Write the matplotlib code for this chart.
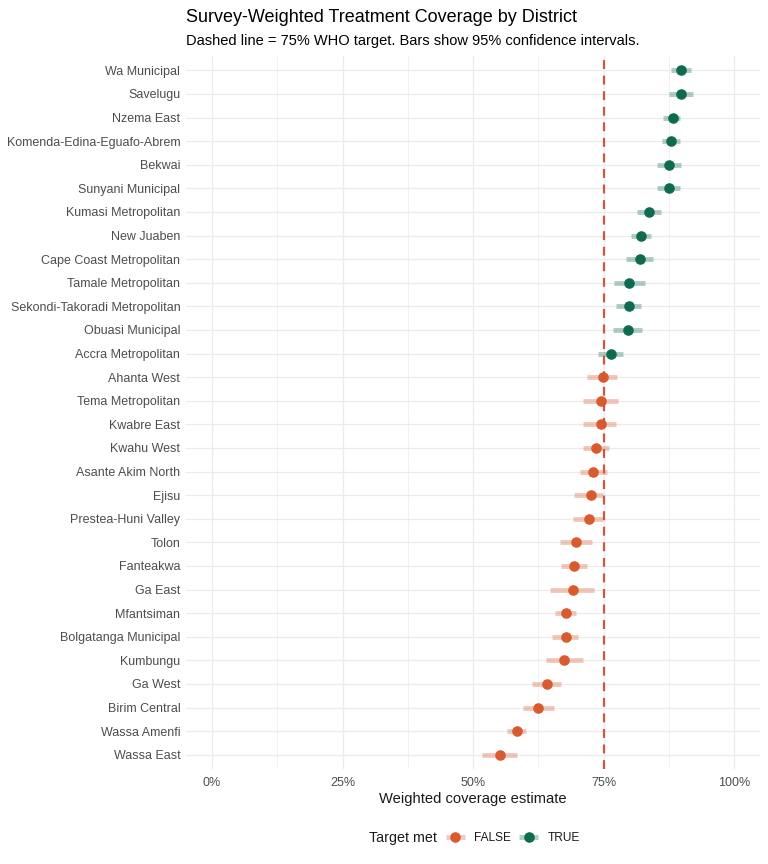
import matplotlib
matplotlib.use("Agg")
import matplotlib.pyplot as plt
from matplotlib.lines import Line2D
from matplotlib.ticker import FuncFormatter, MultipleLocator
from matplotlib.legend_handler import HandlerTuple

plt.rcParams['font.family'] = ['Liberation Sans', 'DejaVu Sans']

districts = ["Wa Municipal", "Savelugu", "Nzema East", "Komenda-Edina-Eguafo-Abrem", "Bekwai",
             "Sunyani Municipal", "Kumasi Metropolitan", "New Juaben", "Cape Coast Metropolitan",
             "Tamale Metropolitan", "Sekondi-Takoradi Metropolitan", "Obuasi Municipal",
             "Accra Metropolitan", "Ahanta West", "Tema Metropolitan", "Kwabre East", "Kwahu West",
             "Asante Akim North", "Ejisu", "Prestea-Huni Valley", "Tolon", "Fanteakwa", "Ga East",
             "Mfantsiman", "Bolgatanga Municipal", "Kumbungu", "Ga West", "Birim Central",
             "Wassa Amenfi", "Wassa East"]
estimate = [0.898, 0.898, 0.882, 0.879, 0.875, 0.875, 0.837, 0.822, 0.820, 0.799, 0.798, 0.796,
            0.765, 0.748, 0.744, 0.744, 0.736, 0.730, 0.725, 0.721, 0.698, 0.694, 0.691,
            0.677, 0.677, 0.675, 0.641, 0.625, 0.584, 0.552]
ci_low = [0.879, 0.875, 0.864, 0.862, 0.852, 0.852, 0.814, 0.803, 0.793, 0.770, 0.774, 0.767,
          0.740, 0.719, 0.711, 0.711, 0.711, 0.704, 0.694, 0.692, 0.666, 0.669, 0.648,
          0.656, 0.652, 0.639, 0.612, 0.595, 0.564, 0.517]
ci_high = [0.917, 0.921, 0.896, 0.896, 0.899, 0.897, 0.859, 0.840, 0.845, 0.829, 0.821, 0.823,
           0.787, 0.776, 0.778, 0.774, 0.760, 0.756, 0.749, 0.749, 0.728, 0.718, 0.732,
           0.697, 0.701, 0.711, 0.669, 0.655, 0.602, 0.585]
target = 0.75

col_false = "#DA5A2F"
col_true = "#0E6B50"

fig = plt.figure(figsize=(7.68, 8.64), dpi=100)
ax = fig.add_axes([0.242, 0.110, 0.748, 0.825])

n = len(districts)
ys = list(range(n - 1, -1, -1))
for yy, est, lo, hi in zip(ys, estimate, ci_low, ci_high):
    c = col_true if est >= target else col_false
    ax.plot([lo, hi], [yy, yy], color=c, alpha=0.32, lw=3.6, solid_capstyle='butt', zorder=2)
    ax.plot([est], [yy], 'o', color=c, ms=6.6, zorder=3)

ax.axvline(target, color="#D0573B", ls=(0, (4, 3)), lw=1.6, zorder=4)

ax.set_xlim(-0.05, 1.05)
ax.set_ylim(-0.6, n - 0.4)
ax.set_yticks(ys)
ax.set_yticklabels(districts)
ax.xaxis.set_major_locator(MultipleLocator(0.25))
ax.xaxis.set_minor_locator(MultipleLocator(0.125))
ax.xaxis.set_major_formatter(FuncFormatter(lambda v, p: f"{v*100:.0f}%"))
ax.grid(True, which='major', color='#EBEBEB', lw=0.9, zorder=0)
ax.grid(True, which='minor', axis='x', color='#EBEBEB', lw=0.5, zorder=0)
ax.set_axisbelow(True)
for s in ax.spines.values():
    s.set_visible(False)
ax.tick_params(axis='both', which='both', length=0, colors='#4D4D4D', labelsize=9)
ax.tick_params(axis='y', pad=4)
ax.tick_params(axis='x', pad=6)
ax.set_xlabel("Weighted coverage estimate", fontsize=10.6, color='#1A1A1A', labelpad=2)

fig.text(0.242, 1 - 22 / 864, "Survey-Weighted Treatment Coverage by District", fontsize=13,
         color='#000000', ha='left', va='baseline')
fig.text(0.242, 1 - 45 / 864, "Dashed line = 75% WHO target. Bars show 95% confidence intervals.",
         fontsize=10.5, color='#000000', ha='left', va='baseline')

def key(c):
    return (Line2D([], [], color=c, alpha=0.32, lw=3.6, solid_capstyle='butt'),
            Line2D([], [], marker='o', color=c, ms=6.6, ls='none'))

fig.text(369 / 768, 1 - 838 / 864, "Target met", fontsize=10.3, color='#1A1A1A',
         ha='left', va='center')
leg = fig.legend([key(col_false), key(col_true)], ["FALSE", "TRUE"],
                 handler_map={tuple: HandlerTuple(ndivide=1)},
                 loc='center left', bbox_to_anchor=(446 / 768, 1 - 838 / 864), ncol=2,
                 frameon=False, fontsize=8.6, borderpad=0, borderaxespad=0,
                 handlelength=1.55, handletextpad=0.8, columnspacing=0.7)
for t in leg.get_texts():
    t.set_color('#1A1A1A')

fig.savefig("out.png", dpi=100, facecolor='white')
